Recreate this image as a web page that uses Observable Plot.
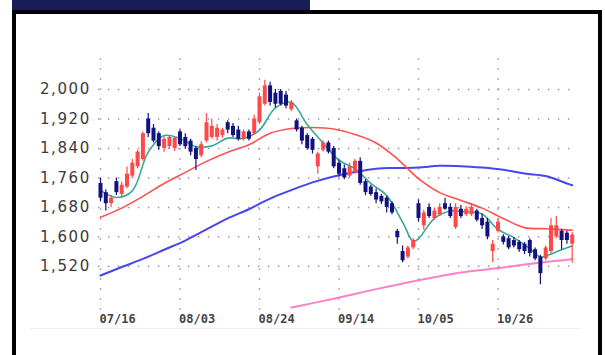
<!DOCTYPE html>
<html><head><meta charset="utf-8">
<script src="https://cdn.jsdelivr.net/npm/d3@7"></script>
<script src="https://cdn.jsdelivr.net/npm/@observablehq/plot@0.6"></script>
<style>
html,body{margin:0;padding:0;background:#fff;width:605px;height:355px;overflow:hidden;}
#wrap{position:relative;width:605px;height:355px;}
#bar{position:absolute;left:12px;top:0;width:298px;height:10px;background:#181d57;}
#frame{position:absolute;left:12px;top:10px;width:582px;height:400px;border:4px solid #000;}
#faint{position:absolute;left:30px;top:328px;width:550px;height:1px;background:#eeeeee;}
#chart{position:absolute;left:0;top:0;}
</style></head><body>
<div id="wrap"><div id="bar"></div><div id="frame"></div><div id="faint"></div><div id="chart"></div></div>
<script>
// Daily candles (index 0..89)
const open  = [1745,1720,1690,1750,1715,1735,1765,1790,1810,1920,1895,1880,1840,1845,1840,1885,1870,1860,1840,1820,1860,1870,1870,1875,1910,1900,1890,1865,1885,1880,1910,1960,2010,1990,1995,1985,1945,1915,1895,1875,1865,1790,1835,1855,1840,1800,1785,1765,1775,1805,1750,1735,1720,1710,1705,1690,1615,1560,1545,1570,1690,1630,1680,1650,1660,1690,1680,1625,1675,1660,1660,1670,1650,1640,1560,1615,1600,1595,1590,1585,1580,1590,1565,1545,1540,1560,1600,1615,1610,1580];
const high  = [1760,1728,1712,1760,1748,1790,1810,1835,1885,1935,1905,1885,1872,1875,1870,1890,1880,1865,1845,1858,1935,1920,1905,1895,1915,1908,1900,1890,1890,1930,1990,2025,2020,2000,2000,1995,1970,1920,1900,1880,1870,1830,1860,1860,1845,1808,1795,1800,1810,1815,1755,1740,1730,1715,1710,1695,1620,1575,1575,1595,1700,1672,1690,1678,1690,1705,1690,1690,1685,1682,1690,1675,1662,1650,1590,1650,1606,1600,1598,1590,1585,1595,1570,1550,1575,1650,1655,1620,1615,1612];
const low   = [1695,1670,1680,1712,1708,1730,1758,1785,1805,1870,1855,1835,1830,1838,1832,1845,1838,1820,1780,1815,1855,1865,1860,1868,1880,1870,1860,1860,1860,1875,1905,1955,1955,1950,1955,1948,1940,1885,1850,1835,1825,1770,1830,1825,1785,1762,1755,1760,1770,1740,1712,1710,1690,1688,1665,1660,1580,1530,1540,1565,1640,1618,1650,1645,1655,1672,1650,1620,1650,1655,1655,1640,1620,1592,1530,1610,1578,1565,1570,1558,1552,1545,1535,1470,1535,1555,1595,1565,1580,1528];
const close = [1705,1690,1705,1720,1740,1770,1800,1830,1880,1880,1860,1845,1865,1870,1868,1850,1845,1830,1810,1850,1910,1900,1895,1890,1890,1875,1865,1885,1865,1920,1980,2010,1965,1960,1960,1955,1965,1890,1860,1840,1835,1825,1855,1830,1790,1770,1760,1790,1805,1745,1720,1715,1700,1695,1680,1665,1598,1535,1570,1590,1650,1665,1655,1670,1680,1675,1655,1680,1655,1675,1680,1645,1630,1600,1580,1640,1585,1570,1575,1565,1560,1555,1540,1500,1570,1630,1630,1590,1590,1605];

// Short moving average (teal), read at sample indices
const tealIdx = [0,3,6,9,12,15,18,21,24,27,30,33,36,39,42,45,48,51,54,57,59,60,63,66,69,72,75,78,81,83,84,87,89];
const tealVal = [1726,1707,1725,1830,1875,1867,1845,1847,1868,1867,1890,1950,1965,1905,1855,1808,1785,1745,1712,1640,1588,1595,1650,1670,1668,1662,1620,1598,1568,1545,1548,1565,1575];

// Medium (red) and long (blue) moving averages
const maIdx  = [0,4,8,12,16,20,24,28,32,36,40,44,48,52,56,60,64,68,72,76,80,84,88,89];
const redVal = [1653,1678,1710,1745,1775,1805,1830,1850,1881,1894,1897,1893,1878,1855,1812,1758,1720,1699,1678,1650,1625,1622,1619,1618];
const blueVal= [1495,1518,1540,1565,1590,1620,1650,1675,1704,1727,1748,1764,1776,1785,1787,1788,1793,1792,1788,1782,1772,1765,1745,1740];

// Very long moving average (pink)
const pinkIdx = [36,40,44,48,52,56,60,64,68,72,76,80,84,88,89];
const pinkVal = [1408,1420,1432,1445,1458,1470,1482,1493,1503,1510,1517,1525,1532,1538,1540];

// Axis ticks
const yTicks = [1520,1600,1680,1760,1840,1920,2000];
const xTickIdx = [0,15,30,45,60,75];
const xLabels = ["07/16","08/03","08/24","09/14","10/05","10/26"];

const UP = "#ff4848", DOWN = "#12127e";
const candles = open.map((o, i) => ({i, o, h: high[i], l: low[i], c: close[i], col: close[i] >= o ? UP : DOWN}));
const series = (ix, vals) => ix.map((i, k) => ({i, v: vals[k]}));

const chart = Plot.plot({
  width: 605, height: 355,
  marginLeft: 97.35, marginRight: 28, marginTop: 57, marginBottom: 45,
  x: {type: "linear", domain: [-0.5, 90], label: null},
  y: {domain: [1400, 2087], label: null},
  color: {type: "identity"},
  style: {background: "transparent", fontFamily: "DejaVu Sans", color: "#3a3a3a"},
  marks: [
    Plot.ruleY(yTicks, {x1: -0.4, x2: 90, stroke: "#999", strokeWidth: 1.5, strokeDasharray: "1.5 8.5"}),
    Plot.ruleX(xTickIdx, {y1: 1400.5, y2: 2087, stroke: "#999", strokeWidth: 1.5, strokeDasharray: "1.5 8.5"}),
    Plot.line(series(pinkIdx, pinkVal), {x: "i", y: "v", stroke: "#ff80c8", strokeWidth: 2, curve: "catmull-rom"}),
    Plot.line(series(maIdx, blueVal), {x: "i", y: "v", stroke: "#4646f0", strokeWidth: 2, curve: "catmull-rom"}),
    Plot.line(series(maIdx, redVal), {x: "i", y: "v", stroke: "#ff5050", strokeWidth: 1.6, curve: "catmull-rom"}),
    Plot.line(series(tealIdx, tealVal), {x: "i", y: "v", stroke: "#3aa896", strokeWidth: 1.6, curve: "catmull-rom"}),
    Plot.ruleX(candles, {x: "i", y1: "l", y2: "h", stroke: "col", strokeWidth: 1.2}),
    Plot.ruleX(candles, {x: "i", y1: "o", y2: "c", stroke: "col", strokeWidth: 4}),
    Plot.axisY(yTicks, {label: null, tickSize: 0, tickPadding: 7, tickFormat: d3.format(","), fontSize: 15, fill: "#3a3a3a"}),
    Plot.axisX(xTickIdx, {label: null, tickSize: 0, tickPadding: 4, tickFormat: d => xLabels[xTickIdx.indexOf(d)], textAnchor: "start", dx: -1, fontSize: 12, fontWeight: "bold", fontFamily: "DejaVu Sans Mono", fill: "#444"})
  ]
});
chart.querySelectorAll('g[aria-label="y-axis tick label"] text').forEach(t => t.setAttribute("letter-spacing", "1.6"));
document.getElementById("chart").appendChild(chart);
</script>
</body></html>
